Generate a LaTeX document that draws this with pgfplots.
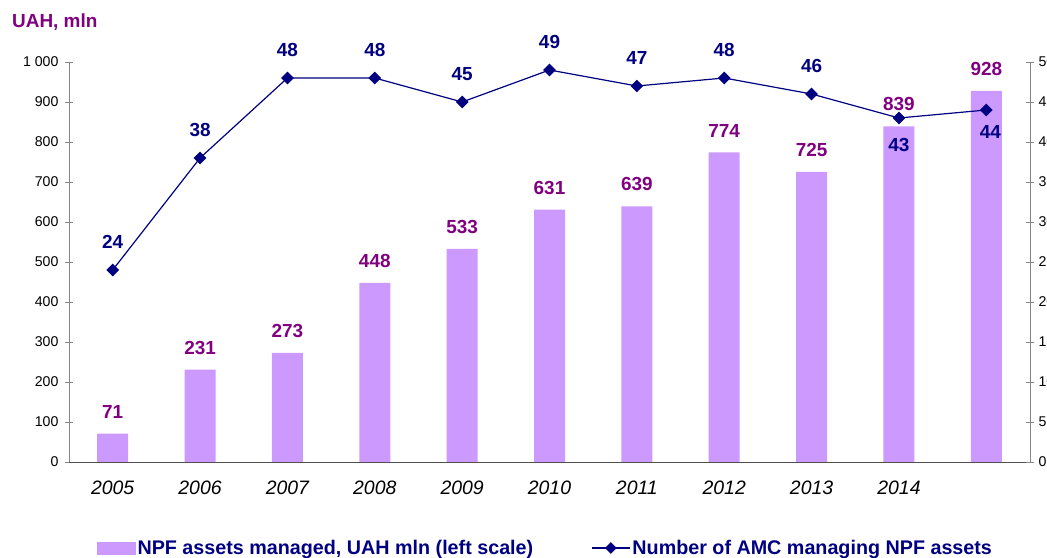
\documentclass[border=0pt]{standalone}
\usepackage{fontspec}
\setmainfont{Liberation Sans}
\usepackage{pgfplots}
\pgfplotsset{compat=1.18}
\definecolor{barcol}{HTML}{CC99FF}
\definecolor{navyc}{HTML}{000080}
\definecolor{plum}{HTML}{800080}
\definecolor{axgray}{HTML}{868686}
\definecolor{axdark}{HTML}{505050}
\begin{document}
\begin{tikzpicture}
\pgfplotsset{
  common/.style={
    at={(69bp,96bp)}, anchor=south west,
    scale only axis, width=961bp, height=400bp,
    xmin=-0.5, xmax=10.5,
    tick align=center, major tick length=8bp,
    tick style={draw=axgray, line width=0.8bp},
    axis line style={-, draw=axgray, line width=0.8bp},
    ticklabel style={font=\fontsize{14.2}{14.2}\selectfont, text=black},
    /pgf/number format/assume math mode=true,
    clip=false,
  }
}
\begin{axis}[common,
  ymin=0, ymax=1000,
  axis x line*=bottom, axis y line*=left,
  x axis line style={draw=axdark},
  xtick={0,1,2,3,4,5,6,7,8,9,10},
  xticklabels={2005,2006,2007,2008,2009,2010,2011,2012,2013,2014,{}},
  xtick style={draw=none},
  minor xtick={-0.5,0.5,1.5,2.5,3.5,4.5,5.5,6.5,7.5,8.5,9.5,10.5},
  minor tick length=14bp,
  minor tick style={draw=axdark, line width=0.8bp},
  xticklabel style={font=\fontsize{19.5}{19.5}\selectfont\itshape, yshift=-7bp},
  ytick={0,100,200,300,400,500,600,700,800,900,1000},
  yticklabels={0,100,200,300,400,500,600,700,800,900,1 000},
  yticklabel style={xshift=-3bp},
  ybar, bar width=31bp,
  nodes near coords,
  every node near coord/.append style={font=\bfseries\fontsize{19}{19}\selectfont, text=plum, anchor=south, inner sep=0pt, yshift=15bp},
]
\addplot[fill=barcol, draw=none] coordinates {
(0,71) (1,231) (2,273) (3,448) (4,533) (5,631) (6,639) (7,774) (8,725) (9,839) (10,928)};
\end{axis}
\begin{axis}[common,
  ymin=0, ymax=50,
  axis x line=none, axis y line*=right,
  ytick={0,5,10,15,20,25,30,35,40,45,50},
  yticklabel style={xshift=1bp},
  legend style={at={(axis description cs:0.0291,-0.215)}, anchor=west, draw=none, fill=none,
    inner sep=0pt, legend columns=2, font=\bfseries\fontsize{19.8}{19.8}\selectfont, text=navyc,
    /tikz/every even column/.append style={column sep=56bp}},
  legend cell align=left,
]
\addlegendimage{legend image code/.code={\fill[barcol] (0bp,-6bp) rectangle (38bp,6bp);}}
\addlegendentry{NPF assets managed, UAH mln (left scale)}
\addlegendimage{legend image code/.code={\draw[navyc, line width=1.2bp] (0bp,0bp) -- (38bp,0bp);
  \fill[navyc] (19bp,5.5bp) -- (24.5bp,0bp) -- (19bp,-5.5bp) -- (13.5bp,0bp) -- cycle;}}
\addlegendentry{Number of AMC managing NPF assets}
\addplot[navyc, line width=1.2bp, mark=square*, mark size=3.9bp, mark options={rotate=45, fill=navyc}, forget plot] coordinates {
(0,24) (1,38) (2,48) (3,48) (4,45) (5,49) (6,47) (7,48) (8,46) (9,43) (10,44)};
\addplot[draw=none, mark=none, forget plot, nodes near coords,
  every node near coord/.append style={font=\bfseries\fontsize{19}{19}\selectfont, text=navyc, anchor=south, inner sep=0pt, yshift=21bp}] coordinates {
(0,24) (1,38) (2,48) (3,48) (4,45) (5,49) (6,47) (7,48) (8,46)};
\addplot[draw=none, mark=none, forget plot, nodes near coords,
  every node near coord/.append style={font=\bfseries\fontsize{19}{19}\selectfont, text=navyc, anchor=north, inner sep=0pt, yshift=-20bp}] coordinates {
(9,43)};
\addplot[draw=none, mark=none, forget plot, nodes near coords,
  every node near coord/.append style={font=\bfseries\fontsize{19}{19}\selectfont, text=navyc, anchor=north, inner sep=0pt, yshift=-15bp, xshift=4bp}] coordinates {
(10,44)};
\end{axis}
\node[anchor=west, inner sep=0pt, text=plum, font=\bfseries\fontsize{19}{19}\selectfont] at (12bp,536bp) {UAH, mln};
\pgfresetboundingbox
\useasboundingbox (0bp,0bp) rectangle (1047bp,558bp);
\end{tikzpicture}
\end{document}
